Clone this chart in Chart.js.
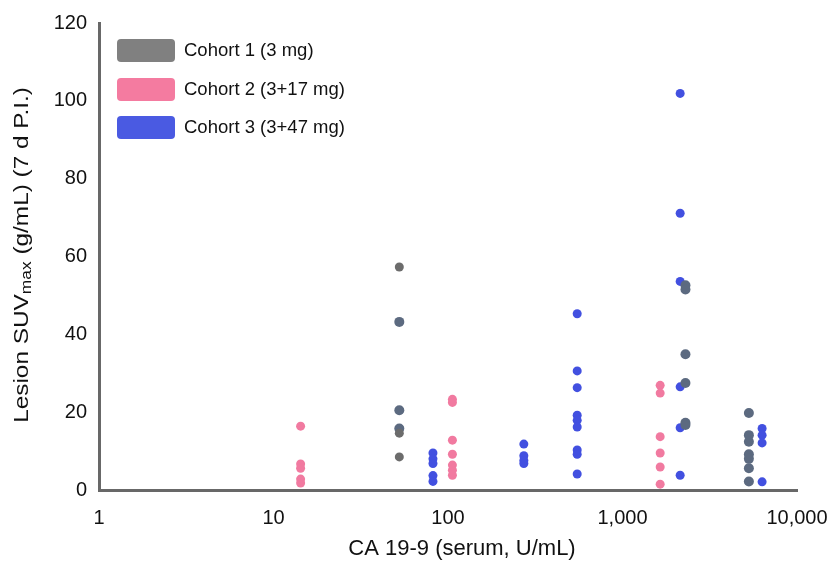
<!DOCTYPE html>
<html>
<head>
<meta charset="utf-8">
<script src="https://cdn.jsdelivr.net/npm/chart.js@4/dist/chart.umd.min.js"></script>
<style>
html,body{margin:0;padding:0;background:#fff;}
canvas{display:block;}
</style>
</head>
<body>
<canvas id="c" width="834" height="563"></canvas>
<script>
// ---- data ----
const seriesLabels = ["Cohort 1 (3 mg)", "Cohort 2 (3+17 mg)", "Cohort 3 (3+47 mg)"];
const xTickValues = [1, 10, 100, 1000, 10000];
const yTickValues = [0, 20, 40, 60, 80, 100, 120];

const cohort1X = [52.6, 52.6, 52.6, 52.6, 52.6, 52.6,
                  2295, 2295, 2295, 2295, 2295, 2295,
                  5300, 5300, 5300, 5300, 5300, 5300, 5300];
const cohort1Y = [57.3, 43.2, 20.5, 15.8, 14.6, 8.5,
                  52.6, 51.5, 34.9, 27.5, 17.3, 16.7,
                  19.8, 14.1, 12.4, 9.2, 8.0, 5.6, 2.2];
// style: which cohort-1 markers appear in the darker slate tint
const cohort1Slate = [false, true, true, true, false, false,
                      true, true, true, true, true, true,
                      true, true, true, true, true, true, true];

const cohort2X = [14.3, 14.3, 14.3, 14.3, 14.3,
                  106, 106, 106, 106, 106, 106, 106,
                  1644, 1644, 1644, 1644, 1644, 1644];
const cohort2Y = [16.4, 6.7, 5.6, 2.8, 1.8,
                  23.3, 22.5, 12.8, 9.2, 6.4, 5.1, 3.8,
                  26.9, 24.9, 13.7, 9.5, 5.9, 1.5];

const cohort3X = [82, 82, 82, 82, 82,
                  272, 272, 272, 272,
                  550, 550, 550, 550, 550, 550, 550, 550, 550,
                  2140, 2140, 2140, 2140, 2140, 2140,
                  6310, 6310, 6310, 6310];
const cohort3Y = [9.5, 8.0, 6.8, 3.7, 2.2,
                  11.8, 8.8, 7.6, 6.8,
                  45.3, 30.6, 26.3, 19.2, 17.9, 16.2, 10.3, 9.2, 4.1,
                  101.9, 71.1, 53.6, 26.5, 16.0, 3.8,
                  15.8, 14.1, 12.1, 2.1];

// ---- styles ----
const FONT = "'Liberation Sans', Arial, Helvetica, sans-serif";
const GRAY = 'rgb(108,108,108)';
const SLATE = 'rgb(92,106,128)';
const PINK = 'rgb(241,122,160)';
const BLUE = 'rgb(66,80,224)';
const LEGEND_COLORS = ['rgb(128,128,128)', 'rgb(244,123,160)', 'rgb(74,90,226)'];
const AXIS = 'rgb(104,104,104)';

const toPts = (xs, ys) => xs.map((x, i) => ({x: x, y: ys[i]}));

const legendAndTitles = {
  id: 'legendAndTitles',
  afterDraw(chart) {
    const ctx = chart.ctx;
    ctx.save();
    // legend
    const rowsY = [50.5, 89.5, 127.5];
    chart.data.datasets.forEach((ds, i) => {
      const y = rowsY[i];
      ctx.fillStyle = LEGEND_COLORS[i];
      ctx.beginPath();
      ctx.roundRect(117, y - 11.5, 58, 23, 4);
      ctx.fill();
      ctx.fillStyle = '#111';
      ctx.font = '18.5px ' + FONT;
      ctx.textAlign = 'left';
      ctx.textBaseline = 'middle';
      ctx.fillText(ds.label, 184, y);
    });
    // x title
    ctx.font = '22px ' + FONT;
    ctx.textAlign = 'center';
    ctx.textBaseline = 'middle';
    ctx.fillStyle = '#111';
    ctx.fillText('CA 19-9 (serum, U/mL)', 462, 549);
    // y title with subscript
    const big = '21px ' + FONT, small = '15px ' + FONT;
    const parts = [['Lesion SUV', big, 0], ['max', small, 5], [' (g/mL) (7 d P.I.)', big, 0]];
    let total = 0;
    parts.forEach(p => { ctx.font = p[1]; total += ctx.measureText(p[0]).width; });
    ctx.translate(22, 255);
    ctx.rotate(-Math.PI / 2);
    ctx.scale(1.16, 1);
    ctx.textAlign = 'left';
    let x = -total / 2;
    parts.forEach(p => {
      ctx.font = p[1];
      ctx.fillText(p[0], x, p[2]);
      x += ctx.measureText(p[0]).width;
    });
    ctx.restore();
  }
};

new Chart(document.getElementById('c'), {
  type: 'scatter',
  data: {
    datasets: [
      {
        label: seriesLabels[0],
        data: toPts(cohort1X, cohort1Y),
        backgroundColor: ctx => cohort1Slate[ctx.dataIndex] ? SLATE : GRAY,
        borderWidth: 0,
        pointRadius: ctx => cohort1Slate[ctx.dataIndex] ? 5 : 4.5
      },
      {
        label: seriesLabels[1],
        data: toPts(cohort2X, cohort2Y),
        backgroundColor: PINK,
        borderWidth: 0,
        pointRadius: 4.5
      },
      {
        label: seriesLabels[2],
        data: toPts(cohort3X, cohort3Y),
        backgroundColor: BLUE,
        borderWidth: 0,
        pointRadius: 4.5
      }
    ]
  },
  options: {
    responsive: false,
    animation: false,
    events: [],
    layout: { padding: { top: 23, right: 37, left: 0, bottom: 0 } },
    plugins: {
      legend: { display: false },
      tooltip: { enabled: false }
    },
    scales: {
      x: {
        type: 'logarithmic',
        min: 1,
        max: 10000,
        grid: { display: false, drawTicks: false },
        border: { display: true, color: AXIS, width: 3 },
        afterBuildTicks: s => { s.ticks = xTickValues.map(v => ({value: v})); },
        afterFit: s => { s.height = 73; s.paddingLeft = 0; s.paddingRight = 0; },
        ticks: {
          autoSkip: false,
          maxRotation: 0,
          padding: 16,
          color: '#111',
          font: { family: FONT, size: 20 },
          callback: v => Number(v).toLocaleString('en-US')
        }
      },
      y: {
        min: 0,
        max: 120,
        grid: { display: false, drawTicks: false },
        border: { display: true, color: AXIS, width: 3 },
        afterBuildTicks: s => { s.ticks = yTickValues.map(v => ({value: v})); },
        afterFit: s => { s.width = 99; s.paddingTop = 0; s.paddingBottom = 0; },
        ticks: {
          padding: 12,
          color: '#111',
          font: { family: FONT, size: 20 }
        }
      }
    }
  },
  plugins: [legendAndTitles]
});
</script>
</body>
</html>
